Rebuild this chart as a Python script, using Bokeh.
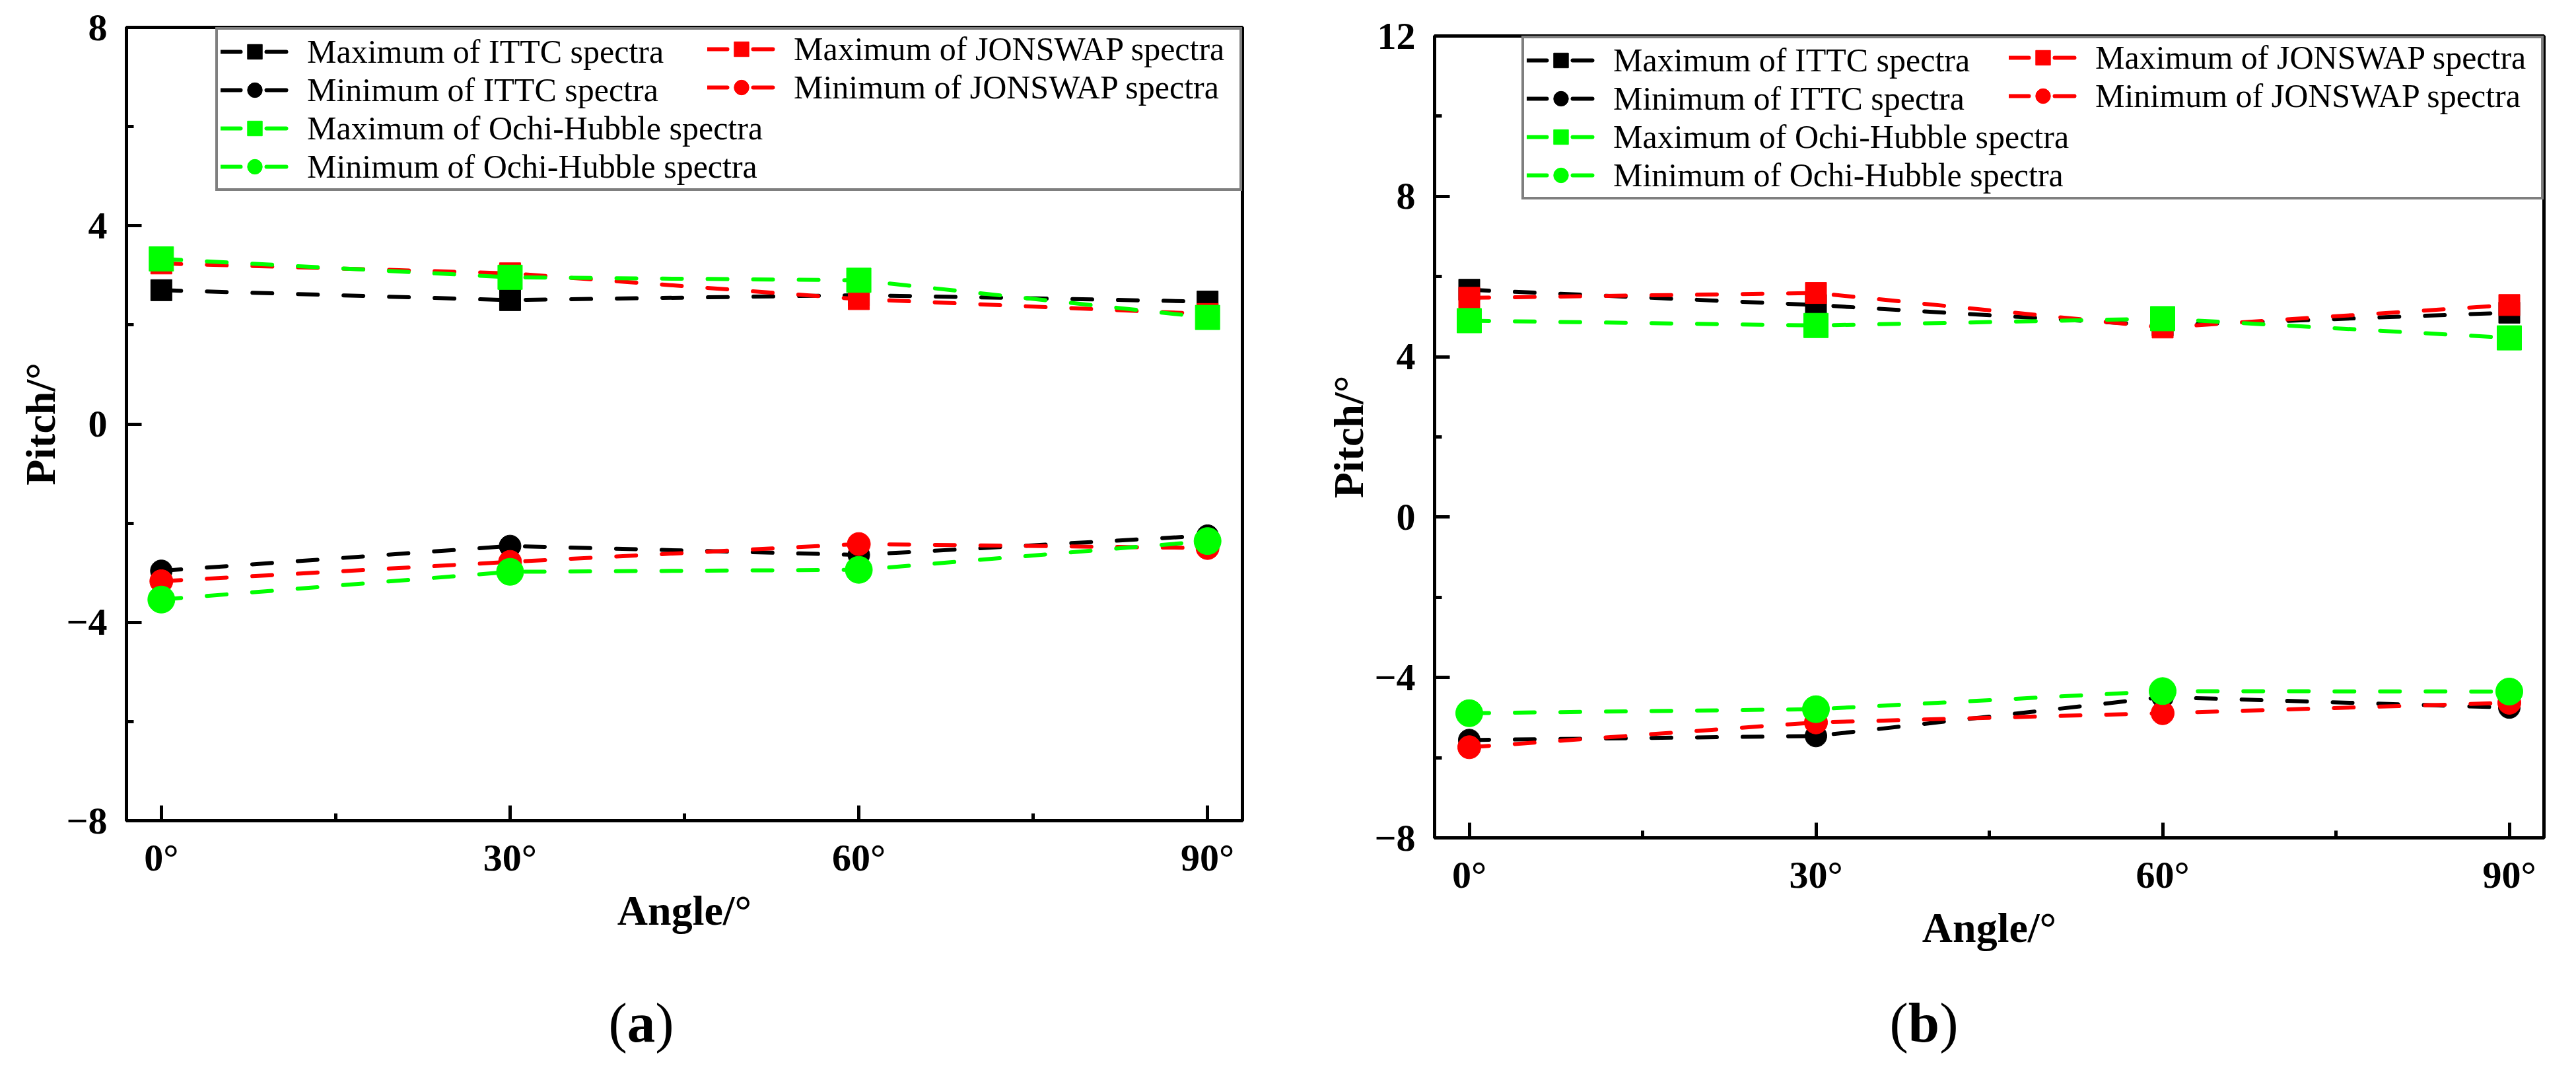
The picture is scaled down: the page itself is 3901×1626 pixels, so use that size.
from bokeh.plotting import figure
from bokeh.models import Legend, LegendItem, FixedTicker, Div
from bokeh.layouts import row, column
from bokeh.embed import file_html
from bokeh.resources import INLINE

angles = [0, 30, 60, 90]
x_ticks = [0, 30, 60, 90]
x_minor = [15, 45, 75]
x_labels = ['0°', '30°', '60°', '90°']

# panel (a)
ittc_max_a = [2.70, 2.50, 2.60, 2.47]
ittc_min_a = [-2.96, -2.46, -2.64, -2.25]
jonswap_max_a = [3.24, 3.04, 2.52, 2.22]
jonswap_min_a = [-3.17, -2.78, -2.42, -2.50]
ochi_max_a = [3.33, 2.96, 2.90, 2.15]
ochi_min_a = [-3.54, -2.98, -2.94, -2.36]
y_ticks_a = [-8, -4, 0, 4, 8]
y_minor_a = [-6, -2, 2, 6]
y_labels_a = ['−8', '−4', '0', '4', '8']

# panel (b)
ittc_max_b = [5.67, 5.29, 4.78, 5.10]
ittc_min_b = [-5.56, -5.46, -4.49, -4.75]
jonswap_max_b = [5.47, 5.59, 4.73, 5.29]
jonswap_min_b = [-5.74, -5.12, -4.89, -4.63]
ochi_max_b = [4.90, 4.78, 4.95, 4.47]
ochi_min_b = [-4.89, -4.79, -4.34, -4.35]
y_ticks_b = [-8, -4, 0, 4, 8, 12]
y_minor_b = [-6, -2, 2, 6, 10]
y_labels_b = ['−8', '−4', '0', '4', '8', '12']

names = ['Maximum of ITTC spectra', 'Minimum of ITTC spectra',
         'Maximum of JONSWAP spectra', 'Minimum of JONSWAP spectra',
         'Maximum of Ochi-Hubble spectra', 'Minimum of Ochi-Hubble spectra']
colors = ['black', 'black', '#ff0000', '#ff0000', '#00ff00', '#00ff00']
markers = ['square', 'circle', 'square', 'circle', 'square', 'circle']
sizes = [32, 33, 32, 35, 37, 41]

FONT = 'Liberation Serif'
FIG_H = 1500


def legend_box(items, label_width, border):
    leg = Legend(items=items, location='top_right', margin=0,
                 padding=4, spacing=0, glyph_width=103, glyph_height=56,
                 label_height=56, label_standoff=28, label_width=label_width,
                 label_text_font=FONT, label_text_font_size='50px',
                 label_text_color='black')
    if border:
        leg.border_line_color = 'black'
        leg.border_line_width = 4
        leg.background_fill_color = 'white'
        leg.background_fill_alpha = 1
    else:
        leg.border_line_alpha = 0
        leg.background_fill_alpha = 0
    return leg


def make_panel(series, y_ticks, y_minor, y_labels, y_rng, w, borders, leg_width):
    left, right, top, bottom = borders
    p = figure(width=w, height=FIG_H, x_range=(-3, 93), y_range=y_rng,
               output_backend="svg", toolbar_location=None, frame_align=False,
               min_border_left=left, min_border_right=right,
               min_border_top=top, min_border_bottom=bottom)
    p.xgrid.visible = False
    p.ygrid.visible = False
    p.outline_line_color = 'black'
    p.outline_line_width = 5
    p.background_fill_color = 'white'
    p.border_fill_color = 'white'

    rs = []
    for ys, c, m, s in zip(series, colors, markers, sizes):
        ln = p.line(angles, ys, line_color=c, line_width=6, line_dash='30 39',
                    line_cap='round')
        sc = p.scatter(angles, ys, marker=m, size=s, fill_color=c, line_color=c)
        rs.append([ln, sc])

    # boxed legend: ITTC + Ochi-Hubble in one column, JONSWAP laid over its right half
    main = [LegendItem(label=names[i], renderers=rs[i]) for i in (0, 1, 4, 5)]
    side = [LegendItem(label=names[i], renderers=rs[i]) for i in (2, 3)]
    p.add_layout(legend_box(main, leg_width - 8 - 103 - 28, True))
    p.add_layout(legend_box(side, 675, False))

    p.xaxis.ticker = FixedTicker(ticks=x_ticks, minor_ticks=x_minor)
    p.xaxis.major_label_overrides = dict(zip(x_ticks, x_labels))
    p.yaxis.ticker = FixedTicker(ticks=y_ticks, minor_ticks=y_minor)
    p.yaxis.major_label_overrides = dict(zip(y_ticks, y_labels))
    p.xaxis.axis_label = 'Angle/°'
    p.yaxis.axis_label = 'Pitch/°'

    for ax in (p.xaxis[0], p.yaxis[0]):
        ax.axis_line_width = 5
        ax.major_tick_line_width = 5
        ax.minor_tick_line_width = 5
        ax.major_tick_out = 0
        ax.minor_tick_out = 0
        ax.major_tick_in = 23
        ax.minor_tick_in = 11
        ax.major_label_text_font = FONT
        ax.major_label_text_font_size = '58px'
        ax.major_label_text_font_style = 'bold'
        ax.major_label_text_color = 'black'
        ax.axis_label_text_font = FONT
        ax.axis_label_text_font_size = '64px'
        ax.axis_label_text_font_style = 'bold'
        ax.axis_label_text_color = 'black'
    p.xaxis.major_label_standoff = 23
    p.xaxis.axis_label_standoff = 9
    p.yaxis.major_label_standoff = 29
    p.yaxis.axis_label_standoff = 0
    return p


def caption(letter, w):
    return Div(text='(<b>%s</b>)' % letter, width=w, height=1610 - FIG_H, margin=0,
               styles={'font-family': FONT, 'font-size': '85px', 'line-height': '1',
                       'text-align': 'center', 'color': 'black', 'padding-top': '6px'})


p1 = make_panel([ittc_max_a, ittc_min_a, jonswap_max_a, jonswap_min_a, ochi_max_a, ochi_min_a],
                y_ticks_a, y_minor_a, y_labels_a, (-8, 8),
                1942, (191, 61, 41, FIG_H - 1242), 1547)
p2 = make_panel([ittc_max_b, ittc_min_b, jonswap_max_b, jonswap_min_b, ochi_max_b, ochi_min_b],
                y_ticks_b, y_minor_b, y_labels_b, (-8, 12),
                1943, (230, 33, 54, FIG_H - 1268), 1540)

p = column(row(p1, p2), row(caption('a', 1942), caption('b', 1943)))

open("out.html", "w").write(file_html(p, INLINE))
